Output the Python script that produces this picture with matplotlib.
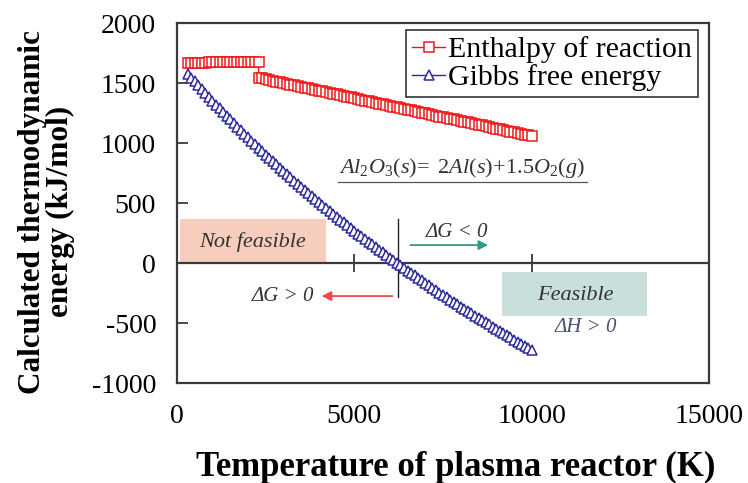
import numpy as np
import matplotlib
matplotlib.use("Agg")
import matplotlib.pyplot as plt
from matplotlib.patches import Rectangle

plt.rcParams['font.family'] = ['Liberation Serif', 'DejaVu Serif']
plt.rcParams['mathtext.fontset'] = 'custom'
plt.rcParams['mathtext.it'] = 'Liberation Serif:italic'
plt.rcParams['mathtext.rm'] = 'Liberation Serif'
plt.rcParams['axes.unicode_minus'] = False

# temperature grid (K)
temp = np.arange(300, 10001, 100)

# Gibbs free energy (kJ/mol), 300..10000 K
gibbs = [1580, 1547, 1514, 1481, 1448, 1416, 1384, 1352,
         1320, 1289, 1258, 1227, 1197, 1167, 1137, 1107, 1077, 1048,
         1019, 990, 962, 933, 905, 877, 850, 822, 795, 768,
         741, 715, 688, 662, 636, 610, 585, 559, 534, 509,
         484, 460, 435, 411, 387, 363, 340, 316, 293, 269,
         246, 223, 200, 178, 155, 133, 111, 89, 67, 45,
         23, 2, -19, -41, -62, -83, -103, -124, -145, -165,
         -185, -206, -226, -246, -266, -285, -305, -325, -344, -364,
         -383, -402, -420, -439, -457, -475, -494, -512, -530, -548,
         -566, -584, -602, -620, -638, -656, -673, -691, -709, -727]

# enthalpy of reaction (kJ/mol): 300..2300 K, then 2300..10000 K
temp_h1 = np.arange(300, 2301, 100)
enth_h1 = [1664, 1664, 1664, 1664, 1664, 1664,
           1679, 1679, 1679, 1679, 1679, 1679, 1679, 1679,
           1679, 1679, 1679, 1679, 1679, 1679, 1679]
temp_h2 = np.arange(2300, 10001, 100)
enth_h2 = [1545, 1539, 1532, 1526, 1520, 1513, 1507, 1501, 1494, 1488,
           1482, 1475, 1469, 1463, 1456, 1450, 1444, 1437, 1431, 1425,
           1419, 1412, 1406, 1400, 1393, 1387, 1381, 1374, 1368, 1362,
           1355, 1349, 1343, 1336, 1330, 1324, 1317, 1311, 1305, 1298,
           1292, 1286, 1279, 1273, 1267, 1260, 1254, 1248, 1241, 1235,
           1229, 1222, 1216, 1210, 1203, 1197, 1191, 1184, 1178, 1172,
           1166, 1159, 1153, 1147, 1140, 1134, 1128, 1121, 1115, 1109,
           1102, 1096, 1090, 1083, 1077, 1071, 1064, 1058]

temp_h = np.concatenate([temp_h1, temp_h2])
enth = enth_h1 + enth_h2

xticks = [0, 5000, 10000, 15000]
yticks = [-1000, -500, 0, 500, 1000, 1500, 2000]

fig = plt.figure(figsize=(7.48, 4.83), dpi=100)
ax = fig.add_axes([0.2366, 0.207, 0.7114, 0.745])

red = '#f01818'
blue = '#2b2b98'
frame = '#3a3a3a'

ax.plot(temp_h, enth, color=red, lw=1.0, marker='s', ms=6.5, mfc='white',
        mec=red, mew=1.1, label='Enthalpy of reaction', zorder=4)
ax.plot(temp, gibbs, color=blue, lw=1.0, marker='^', ms=6.5, mfc='white',
        mec=blue, mew=1.1, label='Gibbs free energy', zorder=4)

ax.set_xlim(0, 15000)
ax.set_ylim(-1000, 2000)
ax.set_xticks(xticks)
ax.set_yticks(yticks)
ax.tick_params(axis='x', length=0, pad=15, labelsize=20)
ax.tick_params(axis='y', direction='in', length=8, width=1.3, color=frame,
               pad=15, labelsize=20)
for s in ax.spines.values():
    s.set_color(frame)
    s.set_linewidth(1.6)

# zero line with crossing ticks
ax.axhline(0, color=frame, lw=1.6, zorder=2)
ax.plot(xticks[1:3], [0, 0], ls='none', marker='|', ms=13, mew=1.3,
        color=frame, zorder=2)

# region boxes
ax.add_patch(Rectangle((85, 11), 4105, 358, color='#f7cdbd', lw=0, zorder=1))
ax.text(2140, 175, 'Not feasible', style='italic', fontsize=16,
        color='#333333', ha='center', va='center', zorder=3)
ax.add_patch(Rectangle((9160, -442), 4090, 370, color='#c9dfdb', lw=0, zorder=1))
ax.text(11220, -270, 'Feasible', style='italic', fontsize=16,
        color='#333333', ha='center', va='center', zorder=3)
ax.text(11530, -540, 'ΔH > 0', style='italic', fontsize=15,
        color='#4a5272', ha='center', va='center')

# reaction
ax.text(8040, 795, r'$Al_2O_3(s)\!=\ 2Al(s)\!+\!1.5O_2(g)$', fontsize=16,
        color='#333333', ha='center', va='center')
ax.plot([4540, 11560], [680, 680], color='#555555', lw=0.9)

# feasibility boundary
ax.plot([6230, 6230], [367, -283], color='#222222', lw=1.0, zorder=3)
ax.text(7900, 255, 'ΔG < 0', style='italic', fontsize=15,
        color='#333333', ha='center', va='center')
ax.annotate('', xy=(8850, 150), xytext=(6500, 150),
            arrowprops=dict(arrowstyle='-|>', color='#2e9a88', lw=1.3,
                            mutation_scale=14))
ax.text(3000, -275, 'ΔG > 0', style='italic', fontsize=15,
        color='#333333', ha='center', va='center')
ax.annotate('', xy=(4000, -275), xytext=(6150, -275),
            arrowprops=dict(arrowstyle='-|>', color='#f04848', lw=1.3,
                            mutation_scale=14))

ax.set_xlabel('Temperature of plasma reactor (K)', fontsize=25,
              fontweight='bold')
ax.set_ylabel('Calculated thermodynamic\nenergy (kJ/mol)', fontsize=22.5,
              fontweight='bold', linespacing=0.95)
ax.xaxis.set_label_coords(0.523, -0.19)
ax.yaxis.set_label_coords(-0.192, 0.476)

leg = ax.legend(loc='upper right', bbox_to_anchor=(0.979, 0.981),
                borderaxespad=0, fontsize=21.5, frameon=True, fancybox=False,
                edgecolor='black', labelspacing=0.05, handlelength=1.1,
                handletextpad=0.1, borderpad=0.2)
leg.get_frame().set_linewidth(1.2)
leg.set_zorder(5)

fig.savefig('out.png', dpi=100)
